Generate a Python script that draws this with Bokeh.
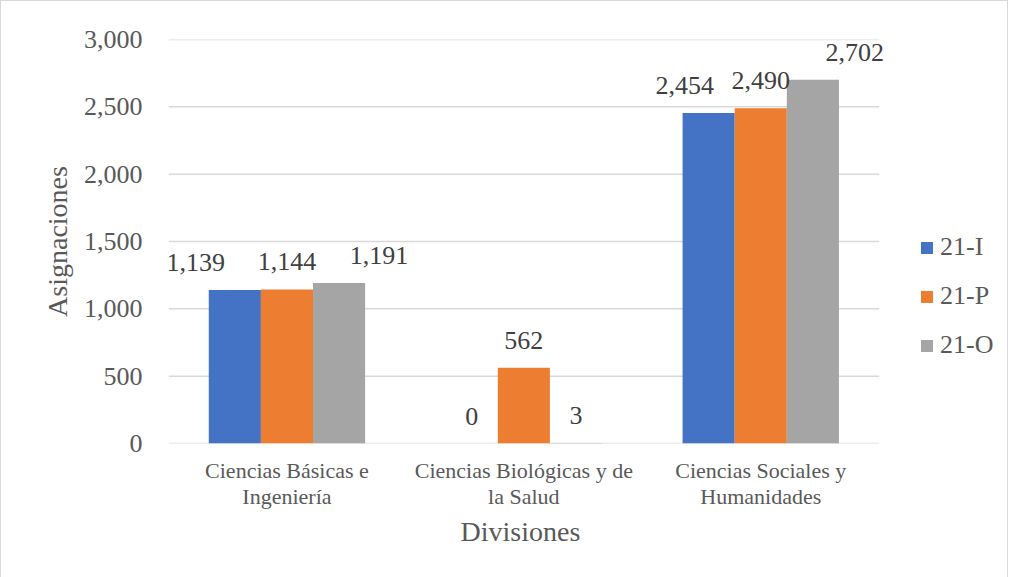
from bokeh.plotting import figure
from bokeh.models import (ColumnDataSource, Range1d, LabelSet, Legend, LegendItem,
                          NumeralTickFormatter, LinearAxis, FixedTicker, Title)
from bokeh.embed import file_html
from bokeh.resources import INLINE

divisiones_l1 = ["Ciencias Básicas e", "Ciencias Biológicas y de", "Ciencias Sociales y"]
divisiones_l2 = ["Ingeniería", "la Salud", "Humanidades"]
series = ["21-I", "21-P", "21-O"]
v_21I = [1139, 0, 2454]
v_21P = [1144, 562, 2490]
v_21O = [1191, 3, 2702]
y_ticks = [0, 500, 1000, 1500, 2000, 2500, 3000]
colors = ["#4472C4", "#ED7D31", "#A5A5A5"]
# horizontal nudges of data labels (style)
label_dx = {"21-I": [-39, 0, -24], "21-P": [0, 0, 0], "21-O": [40, 0, 42]}

FONT = "Liberation Serif"
N = len(divisiones_l1)
centers = [i + 0.5 for i in range(N)]
X_END = 3.512  # extra room on the right for the legend

p = figure(x_range=Range1d(0, X_END), y_range=Range1d(0, 3000),
           width=1008, height=580, output_backend="svg", toolbar_location=None,
           min_border_left=167, min_border_right=9, min_border_top=38, min_border_bottom=138)
p.styles = {"border": "1px solid #D9D9D9"}
p.outline_line_color = None
p.background_fill_color = "white"
p.xgrid.grid_line_color = None
p.ygrid.grid_line_color = None

# horizontal gridlines spanning the category area only
grid_src = ColumnDataSource(dict(x0=[0] * len(y_ticks), x1=[N] * len(y_ticks), y=y_ticks))
p.segment(x0="x0", x1="x1", y0="y", y1="y", source=grid_src, line_color="#D9D9D9", line_width=1.5)

vals = [v_21I, v_21P, v_21O]
offsets = [-0.22, 0.0, 0.22]
renderers = []
for s, v, c, off in zip(series, vals, colors, offsets):
    src = ColumnDataSource(dict(x=[xc + off for xc in centers], y=v,
                                txt=[f"{n:,}" for n in v], dx=label_dx[s]))
    r = p.vbar(x="x", top="y", width=0.22, source=src, fill_color=c, line_color=None)
    renderers.append(r)
    lab = LabelSet(x="x", y="y", text="txt", source=src,
                   x_offset="dx", y_offset=19, text_align="center", text_baseline="bottom",
                   text_font=FONT, text_font_size="26px", text_color="#404040")
    p.add_layout(lab)

def style_axis(ax):
    ax.axis_line_color = None
    ax.major_tick_line_color = None
    ax.minor_tick_line_color = None
    ax.major_label_text_font = FONT
    ax.major_label_text_color = "#595959"
    ax.axis_label_text_font = FONT
    ax.axis_label_text_color = "#595959"
    ax.axis_label_text_font_style = "normal"
    ax.axis_label_text_font_size = "28px"

ya = p.yaxis[0]
style_axis(ya)
ya.ticker = FixedTicker(ticks=y_ticks)
ya.formatter = NumeralTickFormatter(format="0,0")
ya.major_label_text_font_size = "26px"
ya.major_label_standoff = 20
ya.axis_label = "Asignaciones"
ya.axis_label_standoff = 8

xa = p.xaxis[0]
style_axis(xa)
xa.ticker = FixedTicker(ticks=centers)
xa.major_label_overrides = {c: t for c, t in zip(centers, divisiones_l1)}
xa.major_label_text_font_size = "22px"
xa.major_label_standoff = 8

xa2 = LinearAxis(ticker=FixedTicker(ticks=centers),
                 major_label_overrides={c: t for c, t in zip(centers, divisiones_l2)})
style_axis(xa2)
xa2.major_label_text_font_size = "22px"
xa2.major_label_standoff = -8
p.add_layout(xa2, "below")

# axis title centred under the category area (not under the legend space)
xtitle = Title(text="Divisiones", align="left", offset=292, text_font=FONT,
               text_font_size="28px", text_font_style="normal", text_color="#595959",
               standoff=4)
p.add_layout(xtitle, "below")

legend = Legend(items=[LegendItem(label=s, renderers=[r]) for s, r in zip(series, renderers)],
                location=(751, 83), border_line_color=None, background_fill_alpha=0,
                padding=0, margin=0, spacing=19, glyph_width=15, glyph_height=15,
                label_standoff=6, label_text_font=FONT, label_text_font_size="26px",
                label_text_color="#595959", label_height=20)
p.add_layout(legend, "center")

open("out.html", "w").write(file_html(p, INLINE))
